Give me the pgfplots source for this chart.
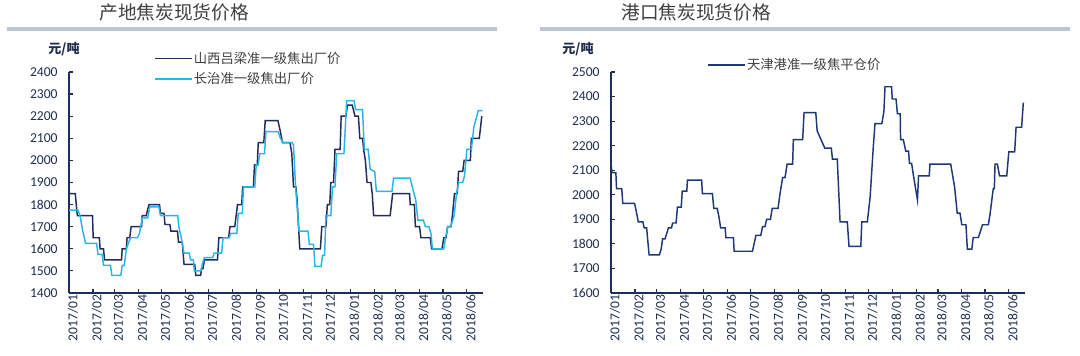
\documentclass[border=0pt]{standalone}
\usepackage{fontspec}
\setmainfont{Carlito}
\newfontfamily\cjk{Noto Sans CJK SC}
\usepackage{pgfplots}
\usepackage{pgfplotstable}
\pgfplotsset{compat=1.18}
\definecolor{navy}{RGB}{31,44,92}
\definecolor{cyanl}{RGB}{40,182,230}
\definecolor{portc}{RGB}{30,55,118}
\definecolor{barc}{RGB}{186,198,212}
\definecolor{titlec}{RGB}{64,64,64}
\definecolor{tickc}{RGB}{31,45,80}

\pgfplotstableread{
d v
0 1850
8.1 1850
10.8 1750
30.5 1750
31.4 1650
39.4 1650
40.3 1600
44.8 1600
46.1 1550
68.1 1550
69.0 1600
74.4 1600
75.3 1650
78.8 1650
80.6 1700
94.1 1700
95.0 1750
100.4 1750
102.1 1780
103.9 1800
117.4 1800
118.7 1760
123.2 1760
124.5 1710
130.8 1710
132.2 1680
140.7 1680
142.0 1630
146.9 1630
149.2 1530
163.1 1530
164.4 1480
170.7 1480
172.0 1510
173.8 1510
175.6 1550
192.6 1550
194.4 1650
207.0 1650
208.8 1700
215.0 1700
218.6 1800
224.0 1800
225.3 1880
239.2 1880
240.6 1980
244.2 1980
245.5 2080
252.7 2080
254.5 2180
271.0 2180
274.2 2130
276.9 2080
286.7 2080
289.0 2030
291.2 1880
294.3 1880
295.7 1830
299.3 1600
326.1 1600
327.9 1700
333.3 1700
335.1 1800
338.2 1800
339.6 1900
343.2 1900
345.0 2050
351.7 2050
353.0 2200
359.3 2200
361.1 2250
367.4 2250
370.9 2200
375.4 2200
377.2 2100
380.8 2100
382.1 2050
384.4 2000
386.6 1900
391.6 1900
393.3 1850
395.1 1750
416.6 1750
419.8 1850
441.7 1850
442.6 1800
448.0 1800
449.3 1700
454.7 1700
456.5 1650
468.6 1650
470.4 1600
483.8 1600
486.1 1650
489.2 1650
491.0 1700
495.5 1700
497.3 1750
500.0 1850
503.6 1850
505.3 1950
510.7 1950
512.5 2000
520.6 2000
521.9 2100
532.2 2100
535.4 2200
}\lvliang

\pgfplotstableread{
d v
0 1775
11.6 1775
14.3 1750
17.9 1680
21.5 1625
35.8 1625
37.6 1575
43.0 1575
44.8 1525
53.8 1525
55.6 1480
67.2 1480
69.0 1525
71.7 1525
74.4 1600
79.7 1650
88.7 1650
91.4 1670
95.0 1740
102.1 1740
104.8 1790
116.5 1790
118.7 1750
141.1 1750
142.5 1700
145.6 1650
149.2 1580
155.9 1580
157.7 1550
161.3 1550
162.6 1500
171.1 1500
172.9 1530
175.6 1560
186.4 1560
188.2 1580
198.0 1580
199.8 1650
207.9 1650
209.7 1670
217.7 1670
219.5 1760
224.9 1760
226.2 1880
241.0 1880
242.8 1980
245.5 1980
247.3 2030
253.6 2030
255.4 2130
271.5 2130
274.2 2100
277.8 2080
289.4 2080
291.2 2070
293.9 1880
298.4 1680
310.0 1680
311.8 1620
317.2 1620
319.0 1520
327.0 1520
328.8 1570
331.5 1570
333.3 1750
339.6 1750
341.8 1880
345.0 1880
347.2 2030
356.6 2030
360.2 2270
369.6 2270
371.8 2230
380.8 2230
383.0 2050
388.0 2050
390.7 1960
396.5 1950
398.7 1860
418.9 1860
421.1 1920
442.6 1920
445.3 1880
449.8 1820
452.5 1730
459.6 1730
462.3 1700
466.8 1700
469.5 1670
471.3 1600
486.1 1600
488.3 1650
491.5 1700
495.0 1700
499.5 1750
502.7 1850
505.3 1900
510.7 1900
513.0 1930
516.1 2050
521.9 2050
525.1 2150
530.9 2225
536.5 2225
}\changzhi

\pgfplotstableread{
d v
0 2130
1.3 2090
6.3 2090
7.2 2025
13.9 2025
15.3 1965
30.5 1965
32.3 1940
35.4 1890
41.3 1890
43.1 1865
46.2 1865
49.4 1755
62.8 1755
65.1 1780
66.9 1820
70.0 1820
74.5 1865
78.5 1865
79.9 1885
84.4 1885
86.2 1950
91.1 1950
92.4 2015
98.3 2015
99.2 2060
117.6 2060
118.5 2005
131.5 2005
133.3 1945
137.8 1945
140.0 1910
142.2 1865
148.1 1865
149.0 1825
158.8 1825
159.7 1770
183.5 1770
188.0 1835
194.3 1835
196.5 1870
199.7 1870
201.9 1900
206.8 1900
209.1 1945
216.7 1945
219.0 2000
222.6 2070
225.7 2070
228.4 2125
235.6 2125
236.5 2225
248.6 2225
250.4 2335
265.6 2335
267.4 2260
277.3 2190
285.8 2190
287.2 2145
293.5 2145
297.1 1890
306.5 1890
308.7 1790
324.0 1790
325.3 1890
332.5 1890
336.1 1990
340.1 2190
342.4 2290
351.3 2290
354.0 2340
355.4 2440
363.9 2440
364.8 2390
369.7 2390
371.5 2330
375.1 2330
375.6 2225
379.1 2225
382.3 2178
385.9 2178
387.2 2128
389.9 2128
392.2 2080
397.5 1979
398.9 2077
412.8 2077
413.7 2125
440.6 2125
445.6 2033
449.1 1925
452.7 1925
455.0 1878
460.4 1878
462.2 1779
468.0 1779
469.8 1826
476.5 1826
481.9 1878
489.5 1878
491.8 1925
495.8 2025
497.2 2025
498.1 2125
501.2 2125
503.9 2077
513.3 2077
516.0 2175
523.6 2175
525.4 2275
532.6 2275
534.8 2375
}\tianjin

\pgfplotsset{
  chartbase/.style={
    scale only axis,
    width=310.5pt, height=165.75pt,
    xmin=0, xmax=537,
    axis x line=bottom, axis y line=left,
    axis line style={-, draw=navy, line width=1.1pt},
    tick style={draw=navy, line width=0.9pt},
    tick align=inside,
    major tick length=3pt,
    xtick={0,31,59,90,120,151,181,212,243,273,304,334,365,396,424,455,485,516},
    xticklabels={2017/01,2017/02,2017/03,2017/04,2017/05,2017/06,2017/07,2017/08,2017/09,2017/10,2017/11,2017/12,2018/01,2018/02,2018/03,2018/04,2018/05,2018/06},
    xticklabel style={rotate=90, anchor=east, font=\fontsize{10.2}{11}\selectfont, text=tickc, inner sep=1pt, yshift=-3pt},
    yticklabel style={font=\fontsize{10.2}{11}\selectfont, text=tickc, xshift=-5pt},
    /pgf/number format/assume math mode=true,
    /pgf/number format/1000 sep={},
    legend cell align=left,
    legend style={draw=none, fill=none, inner sep=0pt, font=\cjk\fontsize{10}{11}\selectfont, text=titlec,
      row sep=3.2pt, nodes={inner sep=1pt}},
    legend image code/.code={\draw[#1, line width=1.3pt] (0pt,0pt) -- (27.5pt,0pt);},
  }
}

\begin{document}
\begin{tikzpicture}
\path[use as bounding box] (0,0) rectangle (810pt,267pt);
% titles
\node[font=\cjk\fontsize{14}{16}\selectfont, text=titlec] at (130.5pt,257.5pt) {产地焦炭现货价格};
\node[font=\cjk\fontsize{14}{16}\selectfont, text=titlec] at (522pt,257.5pt) {港口焦炭现货价格};
\draw[barc, line width=2.6pt] (5.25pt,245.25pt) -- (372.75pt,245.25pt);
\draw[barc, line width=2.6pt] (405pt,245.25pt) -- (802.5pt,245.25pt);
\node[font=\cjk\bfseries\fontsize{9.8}{11}\selectfont, text=tickc] at (48pt,230.5pt) {元/吨};
\node[font=\cjk\bfseries\fontsize{9.8}{11}\selectfont, text=tickc] at (433.5pt,230.5pt) {元/吨};

\begin{axis}[chartbase, at={(51.75pt,47.25pt)}, anchor=origin,
  ymin=1400, ymax=2400, ytick={1400,1500,...,2400},
  legend style={at={(0.205,1.015)}, anchor=west}]
\addplot[navy, line width=1.1pt] table[x=d, y=v] {\lvliang};
\addlegendentry{山西吕梁准一级焦出厂价}
\addplot[cyanl, line width=1.1pt] table[x=d, y=v] {\changzhi};
\addlegendentry{长治准一级焦出厂价}
\end{axis}

\begin{axis}[chartbase, at={(458.25pt,47.25pt)}, anchor=origin,
  ymin=1600, ymax=2500, ytick={1600,1700,...,2500},
  legend style={at={(0.232,1.033)}, anchor=west}]
\addplot[portc, line width=1.1pt] table[x=d, y=v] {\tianjin};
\addlegendentry{天津港准一级焦平仓价}
\end{axis}
\end{tikzpicture}
\end{document}
